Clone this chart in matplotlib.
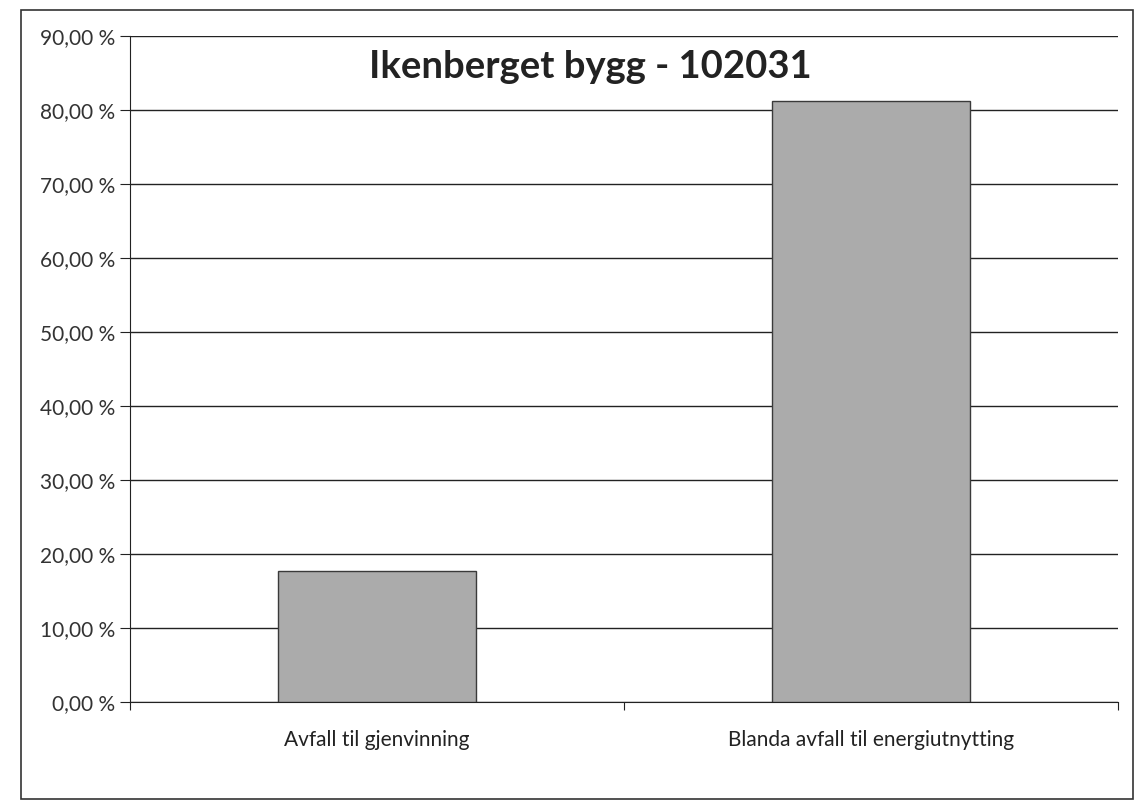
import matplotlib
matplotlib.use("Agg")
import matplotlib.pyplot as plt
from matplotlib.patches import Rectangle
from matplotlib.ticker import FuncFormatter

plt.rcParams['font.family'] = ['Lato', 'DejaVu Sans']

categories = ["Avfall til gjenvinning", "Blanda avfall til energiutnytting"]
shares = [17.7, 81.2]
title = "Ikenberget bygg - 102031"

fig = plt.figure(figsize=(11.41, 8.07), dpi=100)
ax = fig.add_axes([0.114, 0.130, 0.866, 0.825])

# outer frame of the chart
fig.patches.append(Rectangle((0.018, 0.010), 0.975, 0.978, transform=fig.transFigure,
                             fill=False, edgecolor="#333333", linewidth=1.2))

x = list(range(len(categories)))
ax.bar(x, shares, width=0.4, color="#ababab", edgecolor="#3a3a3a", linewidth=1.0, zorder=3)

ax.set_xlim(-0.5, len(categories) - 0.5)
ax.set_ylim(0, 90)
ax.set_yticks(range(0, 91, 10))
ax.yaxis.set_major_formatter(FuncFormatter(lambda v, p: f"{v:.2f}".replace(".", ",") + " %"))
ax.grid(axis="y", color="#222222", linewidth=1.0, zorder=0)

ax.set_xticks([i - 0.5 for i in range(len(categories) + 1)])
ax.set_xticklabels([])
ax.set_xticks(x, minor=True)
ax.set_xticklabels(categories, minor=True)
ax.tick_params(axis="x", which="minor", length=0, pad=20, labelsize=15, labelcolor="#222222")
ax.tick_params(axis="x", which="major", length=6, color="#222222", direction="out")
ax.tick_params(axis="y", length=7, color="#222222", labelsize=15, labelcolor="#333333", pad=4)

for s in ["top", "right"]:
    ax.spines[s].set_visible(False)
ax.spines["left"].set_color("#222222")
ax.spines["bottom"].set_color("#222222")

ax.text(0.466, 0.938, title, transform=ax.transAxes, ha="center", va="baseline",
        fontsize=27.5, fontweight="bold", color="#222222", zorder=5)

fig.savefig("out.png", dpi=100)
